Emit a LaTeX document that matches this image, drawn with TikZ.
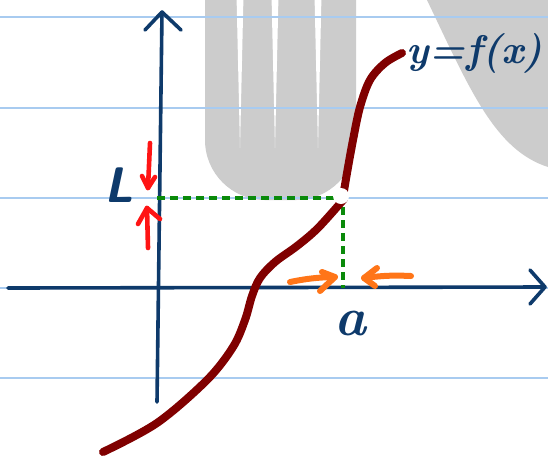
\documentclass[tikz,border=0pt]{standalone}
\usetikzlibrary{arrows.meta}
\definecolor{axisblue}{HTML}{0E3A6B}
\definecolor{ruleblue}{HTML}{A8CBF0}
\definecolor{curvered}{HTML}{800000}
\definecolor{dashgreen}{HTML}{0A8A0A}
\definecolor{arrred}{HTML}{FF1414}
\definecolor{arrorange}{HTML}{FF7518}
\definecolor{shadegray}{HTML}{CCCCCC}
\begin{document}
\begin{tikzpicture}[x=1pt,y=-1pt,
  rule/.style={ruleblue, line width=1.1pt},
  axisline/.style={axisblue, line width=3.6pt, line cap=round, line join=round},
  fcurve/.style={curvered, line width=8pt, line cap=round},
  guide/.style={dashgreen, line width=3.4pt, dash pattern=on 8pt off 5pt},
  redarrow/.style={arrred, line width=4.6pt, line cap=round, line join=round},
  orangearrow/.style={arrorange, line width=6pt, line cap=round, line join=round},
  hand/.style={text=axisblue, inner sep=0pt}]
\useasboundingbox (0,0) rectangle (548,456);
\fill[white] (0,0) rectangle (548,456);
% grey background shapes
\fill[shadegray, rounded corners=60pt] (205,-120) -- (205,200) -- (356,200) -- (356,-120) -- cycle;
\fill[white] (236.5,-5) -- (240,148) -- (243.5,-5) -- cycle;
\fill[white] (271.5,-5) -- (275,148) -- (278.5,-5) -- cycle;
\fill[white] (314.5,-5) -- (318,148) -- (321.5,-5) -- cycle;
\fill[shadegray] (424,-5) -- (427,0) .. controls (470,90) and (495,150) .. (548,167) -- (553,167) -- (553,-5) -- cycle;
% ruled lines
\foreach \yy in {17,108,198,288,378} \draw[rule] (0,\yy) -- (548,\yy);
% axes
\coordinate (ybot) at (157,402);
\coordinate (ytop) at (162,12);
\coordinate (yarmL) at (145,30);
\coordinate (yarmR) at (181,30);
\coordinate (xleft) at (8,288);
\coordinate (xtip) at (545,287);
\coordinate (xarmU) at (530,270);
\coordinate (xarmD) at (530,304);
\draw[axisline] (ybot) -- (ytop);
\draw[axisline] (yarmL) -- (ytop) -- (yarmR);
\draw[axisline] (xleft) -- (xtip);
\draw[axisline] (xarmU) -- (xtip) -- (xarmD);
% green guides
\coordinate (Lpt) at (157,198);
\coordinate (corner) at (343,198);
\coordinate (apt) at (343,288);
\draw[guide] (Lpt) -- (corner) -- (apt);
% curve
\draw[fcurve] plot[smooth, tension=0.55] coordinates {(103,452) (157,423) (207,380) (233,347) (245,320) (252,296) (260,278) (275,262) (297,246) (318,228) (344,199)};
\draw[fcurve] plot[smooth, tension=0.55] coordinates {(343,197) (347,173) (353,140) (360,107) (370,80) (385,63) (402,53)};
% hole
\coordinate (hole) at (341,196);
\fill[white] (hole) circle[radius=8pt];
% red arrows
\coordinate (d1) at (150,143);
\coordinate (d2) at (148,188);
\coordinate (dL) at (142,176);
\coordinate (dR) at (155,177);
\draw[redarrow] (d1) -- (d2);
\draw[redarrow] (dL) -- (d2) -- (dR);
\coordinate (u1) at (148,248);
\coordinate (u2) at (147,208);
\coordinate (uL) at (138,224);
\coordinate (uR) at (160,219);
\draw[redarrow] (u1) -- (u2);
\draw[redarrow] (uL) -- (u2) -- (uR);
% orange arrows
\coordinate (o1) at (290,282);
\coordinate (o2) at (335,277);
\coordinate (oU) at (322,272);
\coordinate (oD) at (320,291);
\draw[orangearrow] (o1) to[bend left=5] (o2);
\draw[orangearrow] (oU) -- (o2) -- (oD);
\coordinate (p1) at (411,276);
\coordinate (p2) at (364,278);
\coordinate (pU) at (377,268);
\coordinate (pD) at (375,286);
\draw[orangearrow] (p1) to[bend right=5] (p2);
\draw[orangearrow] (pU) -- (p2) -- (pD);
% labels
\node[hand, font=\bfseries\itshape\fontsize{40}{48}\selectfont, anchor=base west] (fx) at (406,63) {y\kern1pt=\kern1ptf(x)};
\node[hand, font=\bfseries\itshape\fontsize{54}{60}\selectfont, anchor=base] (alabel) at (350,335) {a};
\node[hand, font=\sffamily\bfseries\slshape\fontsize{50}{60}\selectfont, anchor=base] (Llabel) at (119,202) {L};
\end{tikzpicture}
\end{document}
